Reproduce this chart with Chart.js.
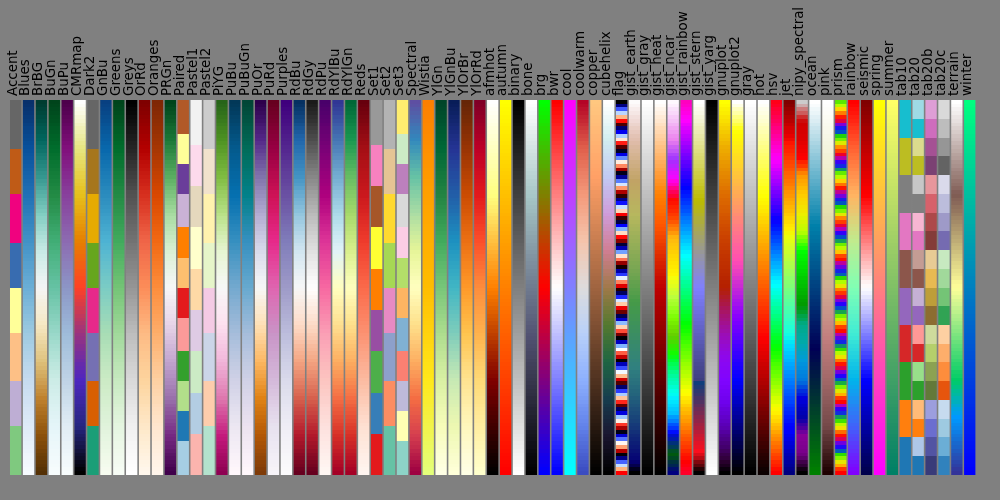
<!DOCTYPE html>
<html><head><meta charset="utf-8">
<script src="https://cdn.jsdelivr.net/npm/chart.js@4.4.1/dist/chart.umd.min.js"></script>
<style>html,body{margin:0;padding:0;background:#808080;}canvas{display:block;}</style>
</head><body>
<canvas id="c" width="1000" height="500"></canvas>
<script>
// ---- categories (colormap names) ----
const categories = ["Accent","Blues","BrBG","BuGn","BuPu","CMRmap","Dark2","GnBu","Greens","Greys","OrRd","Oranges","PRGn","Paired","Pastel1","Pastel2","PiYG","PuBu","PuBuGn","PuOr","PuRd","Purples","RdBu","RdGy","RdPu","RdYlBu","RdYlGn","Reds","Set1","Set2","Set3","Spectral","Wistia","YlGn","YlGnBu","YlOrBr","YlOrRd","afmhot","autumn","binary","bone","brg","bwr","cool","coolwarm","copper","cubehelix","flag","gist_earth","gist_gray","gist_heat","gist_ncar","gist_rainbow","gist_stern","gist_yarg","gnuplot","gnuplot2","gray","hot","hsv","jet","nipy_spectral","ocean","pink","prism","rainbow","seismic","spring","summer","tab10","tab20","tab20b","tab20c","terrain","winter"];
// ---- bar heights (each strip spans the full 0..1 value range) ----
const barHeights = [1,1,1,1,1,1,1,1,1,1,1,1,1,1,1,1,1,1,1,1,1,1,1,1,1,1,1,1,1,1,1,1,1,1,1,1,1,1,1,1,1,1,1,1,1,1,1,1,1,1,1,1,1,1,1,1,1,1,1,1,1,1,1,1,1,1,1,1,1,1,1,1,1,1,1];
// number of colour rows in each strip of the reference
const rowsPerStrip = 100;

// ---- qualitative (listed) colormaps ----
const listedNames = ["Accent","Dark2","Paired","Pastel1","Pastel2","Set1","Set2","Set3","tab10","tab20","tab20b","tab20c"];
// ---- periodic colormaps: one cycle of colours and number of cycles ----
const flagCycle = ["#ff0000","#ffb480","#ffffff","#80b4ff","#0000ff","#000080","#000000","#800000"];
const flagCycles = 15.75;
const prismCycle = ["#ff0000","#ff5400","#ffdb00","#abff00","#24db00","#0054c6","#2400ff","#ab00c6"];
const prismCycles = 10.45;

// ---- colour stops for each colormap, in the same order as categories ----
// plain list = evenly spaced stops, [pos, colour] pairs = explicit positions
const cmapStops = [
 ["#7fc97f","#beaed4","#fdc086","#ffff99","#386cb0","#f0027f","#bf5b17","#666666"],
 ["#f7fbff","#deebf7","#c6dbef","#9ecae1","#6baed6","#4292c6","#2171b5","#08519c","#08306b"],
 ["#543005","#8c510a","#bf812d","#dfc27d","#f6e8c3","#f5f5f5","#c7eae5","#80cdc1","#35978f","#01665e","#003c30"],
 ["#f7fcfd","#e5f5f9","#ccece6","#99d8c9","#66c2a4","#41ae76","#238b45","#006d2c","#00441b"],
 ["#f7fcfd","#e0ecf4","#bfd3e6","#9ebcda","#8c96c6","#8c6bb1","#88419d","#810f7c","#4d004b"],
 ["#000000","#262680","#4d26bf","#993380","#ff4026","#e68000","#e6bf1a","#e6e680","#ffffff"],
 ["#1b9e77","#d95f02","#7570b3","#e7298a","#66a61e","#e6ab02","#a6761d","#666666"],
 ["#f7fcf0","#e0f3db","#ccebc5","#a8ddb5","#7bccc4","#4eb3d3","#2b8cbe","#0868ac","#084081"],
 ["#f7fcf5","#e5f5e0","#c7e9c0","#a1d99b","#74c476","#41ab5d","#238b45","#006d2c","#00441b"],
 ["#ffffff","#f0f0f0","#d9d9d9","#bdbdbd","#969696","#737373","#525252","#252525","#000000"],
 ["#fff7ec","#fee8c8","#fdd49e","#fdbb84","#fc8d59","#ef6548","#d7301f","#b30000","#7f0000"],
 ["#fff5eb","#fee6ce","#fdd0a2","#fdae6b","#fd8d3c","#f16913","#d94801","#a63603","#7f2704"],
 ["#40004b","#762a83","#9970ab","#c2a5cf","#e7d4e8","#f7f7f7","#d9f0d3","#a6dba0","#5aae61","#1b7837","#00441b"],
 ["#a6cee3","#1f78b4","#b2df8a","#33a02c","#fb9a99","#e31a1c","#fdbf6f","#ff7f00","#cab2d6","#6a3d9a","#ffff99","#b15928"],
 ["#fbb4ae","#b3cde3","#ccebc5","#decbe4","#fed9a6","#ffffcc","#e5d8bd","#fddaec","#f2f2f2"],
 ["#b3e2cd","#fdcdac","#cbd5e8","#f4cae4","#e6f5c9","#fff2ae","#f1e2cc","#cccccc"],
 ["#8e0152","#c51b7d","#de77ae","#f1b6da","#fde0ef","#f7f7f7","#e6f5d0","#b8e186","#7fbc41","#4d9221","#276419"],
 ["#fff7fb","#ece7f2","#d0d1e6","#a6bddb","#74a9cf","#3690c0","#0570b0","#045a8d","#023858"],
 ["#fff7fb","#ece2f0","#d0d1e6","#a6bddb","#67a9cf","#3690c0","#02818a","#016c59","#014636"],
 ["#7f3b08","#b35806","#e08214","#fdb863","#fee0b6","#f7f7f7","#d8daeb","#b2abd2","#8073ac","#542788","#2d004b"],
 ["#f7f4f9","#e7e1ef","#d4b9da","#c994c7","#df65b0","#e7298a","#ce1256","#980043","#67001f"],
 ["#fcfbfd","#efedf5","#dadaeb","#bcbddc","#9e9ac8","#807dba","#6a51a3","#54278f","#3f007d"],
 ["#67001f","#b2182b","#d6604d","#f4a582","#fddbc7","#f7f7f7","#d1e5f0","#92c5de","#4393c3","#2166ac","#053061"],
 ["#67001f","#b2182b","#d6604d","#f4a582","#fddbc7","#ffffff","#e0e0e0","#bababa","#878787","#4d4d4d","#1a1a1a"],
 ["#fff7f3","#fde0dd","#fcc5c0","#fa9fb5","#f768a1","#dd3497","#ae017e","#7a0177","#49006a"],
 ["#a50026","#d73027","#f46d43","#fdae61","#fee090","#ffffbf","#e0f3f8","#abd9e9","#74add1","#4575b4","#313695"],
 ["#a50026","#d73027","#f46d43","#fdae61","#fee08b","#ffffbf","#d9ef8b","#a6d96a","#66bd63","#1a9850","#006837"],
 ["#fff5f0","#fee0d2","#fcbba1","#fc9272","#fb6a4a","#ef3b2c","#cb181d","#a50f15","#67000d"],
 ["#e41a1c","#377eb8","#4daf4a","#984ea3","#ff7f00","#ffff33","#a65628","#f781bf","#999999"],
 ["#66c2a5","#fc8d62","#8da0cb","#e78ac3","#a6d854","#ffd92f","#e5c494","#b3b3b3"],
 ["#8dd3c7","#ffffb3","#bebada","#fb8072","#80b1d3","#fdb462","#b3de69","#fccde5","#d9d9d9","#bc80bd","#ccebc5","#ffed6f"],
 ["#9e0142","#d53e4f","#f46d43","#fdae61","#fee08b","#ffffbf","#e6f598","#abdda4","#66c2a5","#3288bd","#5e4fa2"],
 ["#e4ff7a","#ffe81a","#ffbd00","#ffa000","#fc7f00"],
 ["#ffffe5","#f7fcb9","#d9f0a3","#addd8e","#78c679","#41ab5d","#238443","#006837","#004529"],
 ["#ffffd9","#edf8b1","#c7e9b4","#7fcdbb","#41b6c4","#1d91c0","#225ea8","#253494","#081d58"],
 ["#ffffe5","#fff7bc","#fee391","#fec44f","#fe9929","#ec7014","#cc4c02","#993404","#662506"],
 ["#ffffcc","#ffeda0","#fed976","#feb24c","#fd8d3c","#fc4e2a","#e31a1c","#bd0026","#800026"],
 ["#000000","#800000","#ff8000","#ffff80","#ffffff"],
 ["#ff0000","#ffff00"],
 ["#ffffff","#000000"],
 [[0,"#000000"],[0.365,"#515171"],[0.746,"#a6c6c6"],[1,"#ffffff"]],
 ["#0000ff","#ff0000","#00ff00"],
 ["#0000ff","#ffffff","#ff0000"],
 ["#00ffff","#ff00ff"],
 ["#3b4cc0","#6282ea","#8db0fe","#b8d0f9","#dddcdc","#f5c4ac","#f49a7b","#e0604c","#b40426"],
 [[0,"#000000"],[0.8,"#ffa066"],[1,"#ffc77f"]],
 ["#000000","#1a1530","#163d4e","#1f6642","#54792f","#a07949","#d07e93","#cf9cda","#c1caf3","#d2eeef","#ffffff"],
 null,
 [[0,"#000000"],[0.0275,"#05006e"],[0.0314,"#050274"],[0.1098,"#133078"],[0.1647,"#1c4d7a"],[0.2078,"#23627c"],[0.2824,"#30807f"],[0.4588,"#459a48"],[0.549,"#78a652"],[0.698,"#b7b75e"],[0.7882,"#c1a365"],[0.898,"#e0bdac"],[0.9569,"#f1dcd9"],[1,"#fdfbfb"]],
 ["#000000","#ffffff"],
 [[0,"#000000"],[0.5,"#bf0000"],[0.6667,"#ff5500"],[0.75,"#ff8000"],[1,"#ffffff"]],
 [[0,"#000080"],[0.051,"#005f06"],[0.1059,"#0000ee"],[0.1098,"#000eff"],[0.1569,"#00b8ff"],[0.1647,"#00c6ff"],[0.2039,"#00f2ff"],[0.2157,"#00ffeb"],[0.2627,"#00fa9d"],[0.3098,"#00fe1f"],[0.3216,"#14fb00"],[0.3686,"#5fce00"],[0.3725,"#66d100"],[0.4157,"#7cf800"],[0.4235,"#80fd08"],[0.4275,"#85ff0c"],[0.4745,"#bbff3c"],[0.5216,"#f2ff0f"],[0.5333,"#fff800"],[0.5804,"#ffda00"],[0.6314,"#ffba0e"],[0.6863,"#ff4700"],[0.7373,"#ff0900"],[0.7451,"#ff0023"],[0.7922,"#ff00f8"],[0.8,"#f107ff"],[0.8431,"#a52dff"],[0.8471,"#9e33fe"],[0.898,"#eb80ee"],[1,"#fef8fe"]],
 [[0,"#ff0029"],[0.03,"#ff0000"],[0.215,"#ffff00"],[0.4,"#00ff00"],[0.586,"#00ffff"],[0.77,"#0000ff"],[0.954,"#ff00ff"],[1,"#ff00bf"]],
 [[0,"#000000"],[0.0547,"#ff0e1c"],[0.25,"#07407f"],[0.25,"#40407f"],[0.5,"#8080ff"],[0.735,"#bbbb00"],[1,"#ffffff"]],
 ["#ffffff","#000000"],
 [[0,"#000000"],[0.03125,"#2d0032"],[0.0625,"#400062"],[0.125,"#5a00b4"],[0.1875,"#6e02ec"],[0.25,"#8004ff"],[0.3125,"#8e08ec"],[0.375,"#9c0eb4"],[0.4375,"#a81562"],[0.5,"#b42000"],[0.625,"#c93e00"],[0.75,"#dd6b00"],[0.875,"#eeab00"],[1,"#ffff00"]],
 [[0,"#000000"],[0.25,"#0000ff"],[0.42,"#8700ff"],[0.57,"#ff4db3"],[0.92,"#ffff00"],[1,"#ffffff"]],
 ["#000000","#ffffff"],
 [[0,"#0b0000"],[0.365,"#ff0000"],[0.746,"#ffff00"],[1,"#ffffff"]],
 [[0,"#ff0000"],[0.1587,"#ffef00"],[0.1746,"#f7ff00"],[0.3333,"#08ff00"],[0.3492,"#00ff10"],[0.5079,"#00ffff"],[0.6667,"#0010ff"],[0.6825,"#0800ff"],[0.8413,"#f700ff"],[0.8571,"#ff00ef"],[1,"#ff0018"]],
 [[0,"#000080"],[0.11,"#0000ff"],[0.125,"#0000ff"],[0.34,"#00dbff"],[0.35,"#00e5f7"],[0.375,"#15ffe2"],[0.64,"#eeff08"],[0.65,"#f7f500"],[0.66,"#ffec00"],[0.89,"#ff1300"],[0.91,"#e80000"],[1,"#800000"]],
 ["#000000","#770088","#880099","#0000aa","#0000dd","#0077dd","#0099dd","#00aaaa","#00aa88","#009900","#00bb00","#00dd00","#00ff00","#bbff00","#eeee00","#ffcc00","#ff9900","#ff0000","#dd0000","#cc0000","#cccccc"],
 [[0,"#008000"],[0.3333,"#000055"],[0.6667,"#0080aa"],[1,"#ffffff"]],
 [[0,"#1e0000"],[0.125,"#744949"],[0.25,"#a16868"],[0.365,"#c27e7e"],[0.5,"#d0ab93"],[0.6,"#dac6a1"],[0.746,"#e8e8b4"],[0.875,"#f4f4dd"],[1,"#ffffff"]],
 null,
 ["#8000ff","#4062fa","#00b4eb","#40ecd4","#80ffb4","#c0ec8e","#ffb462","#ff6232","#ff0000"],
 ["#00004d","#0000ff","#ffffff","#ff0000","#800000"],
 ["#ff00ff","#ffff00"],
 ["#008066","#ffff66"],
 ["#1f77b4","#ff7f0e","#2ca02c","#d62728","#9467bd","#8c564b","#e377c2","#7f7f7f","#bcbd22","#17becf"],
 ["#1f77b4","#aec7e8","#ff7f0e","#ffbb78","#2ca02c","#98df8a","#d62728","#ff9896","#9467bd","#c5b0d5","#8c564b","#c49c94","#e377c2","#f7b6d2","#7f7f7f","#c7c7c7","#bcbd22","#dbdb8d","#17becf","#9edae5"],
 ["#393b79","#5254a3","#6b6ecf","#9c9ede","#637939","#8ca252","#b5cf6b","#cedb9c","#8c6d31","#bd9e39","#e7ba52","#e7cb94","#843c39","#ad494a","#d6616b","#e7969c","#7b4173","#a55194","#ce6dbd","#de9ed6"],
 ["#3182bd","#6baed6","#9ecae1","#c6dbef","#e6550d","#fd8d3c","#fdae6b","#fdd0a2","#31a354","#74c476","#a1d99b","#c7e9c0","#756bb1","#9e9ac8","#bcbddc","#dadaeb","#636363","#969696","#bdbdbd","#d9d9d9"],
 [[0,"#333399"],[0.15,"#0099ff"],[0.25,"#00cc66"],[0.5,"#ffff99"],[0.75,"#805c54"],[1,"#ffffff"]],
 ["#0000ff","#00ff80"]
];

// ---------- colour helpers ----------
function hexRgb(h){ return [parseInt(h.slice(1,3),16),parseInt(h.slice(3,5),16),parseInt(h.slice(5,7),16)]; }
function mixRgb(a,b,f){ return [a[0]+(b[0]-a[0])*f, a[1]+(b[1]-a[1])*f, a[2]+(b[2]-a[2])*f]; }
function rgbStr(c){ return 'rgb('+Math.round(c[0])+','+Math.round(c[1])+','+Math.round(c[2])+')'; }
function normStops(def){
  if (typeof def[0] === 'string') return def.map((c,i)=>[i/(def.length-1), hexRgb(c)]);
  return def.map(s=>[s[0], hexRgb(s[1])]);
}
function evalStops(stops,p){
  if (p <= stops[0][0]) return stops[0][1];
  for (let j=1;j<stops.length;j++){
    const p0=stops[j-1][0], p1=stops[j][0];
    if (p <= p1){
      if (p1 === p0) return stops[j][1];
      return mixRgb(stops[j-1][1], stops[j][1], (p-p0)/(p1-p0));
    }
  }
  return stops[stops.length-1][1];
}
function evalCycle(cycle,n,p){
  const L=cycle.length, ph=p*n*L, i0=Math.floor(ph), f=ph-i0;
  return mixRgb(hexRgb(cycle[i0%L]), hexRgb(cycle[(i0+1)%L]), f);
}
// colours of the rows of one strip, from value 0 (bottom) to 1 (top)
function stripColours(idx){
  const name=categories[idx], def=cmapStops[idx], out=[];
  for (let i=0;i<rowsPerStrip;i++){
    const v=i/(rowsPerStrip-1);
    let c;
    if (listedNames.includes(name)){
      const k=Math.min(def.length-1, Math.floor(v*def.length));
      c=hexRgb(def[k]);
    } else {
      const p=Math.min(255, Math.floor(v*256))/255;
      if (name==='flag') c=evalCycle(flagCycle,flagCycles,p);
      else if (name==='prism') c=evalCycle(prismCycle,prismCycles,p);
      else c=evalStops(normStops(def),p);
    }
    out.push(rgbStr(c));
  }
  return out;
}
const gradCache={};
function stripFill(context){
  const chart=context.chart, y=chart.scales && chart.scales.y;
  if (!chart.chartArea || !y) return '#808080';
  const idx=context.dataIndex;
  const y0=y.getPixelForValue(0), y1=y.getPixelForValue(barHeights[idx]);
  const key=idx+':'+y0+':'+y1;
  if (gradCache[key]) return gradCache[key];
  const g=chart.ctx.createLinearGradient(0,y0,0,y1);
  const cols=stripColours(idx), n=cols.length;
  for (let i=0;i<n;i++){ g.addColorStop(i/n, cols[i]); g.addColorStop((i+1)/n, cols[i]); }
  gradCache[key]=g;
  return g;
}
const bgPlugin={id:'bg',beforeDraw(chart){const c=chart.ctx;c.save();c.fillStyle='#808080';c.fillRect(0,0,chart.width,chart.height);c.restore();}};

new Chart(document.getElementById('c'),{
  type:'bar',
  data:{labels:categories,datasets:[{data:barHeights,backgroundColor:stripFill,borderWidth:0,barPercentage:0.877,categoryPercentage:1.0}]},
  options:{
    responsive:false, animation:false, devicePixelRatio:1,
    layout:{padding:{left:9.2,right:23.8,top:0,bottom:25}},
    plugins:{legend:{display:false},tooltip:{enabled:false}},
    scales:{
      x:{position:'top',grid:{display:false,drawTicks:false},border:{display:false},
         ticks:{autoSkip:false,minRotation:90,maxRotation:90,color:'#000000',padding:4,labelOffset:13.5,
                font:{family:'DejaVu Sans',size:13.4}},
         afterFit(s){ s.height=100; s.paddingLeft=0; s.paddingRight=0; }},
      y:{display:false,min:0,max:1}
    }
  },
  plugins:[bgPlugin]
});
</script>
</body></html>
